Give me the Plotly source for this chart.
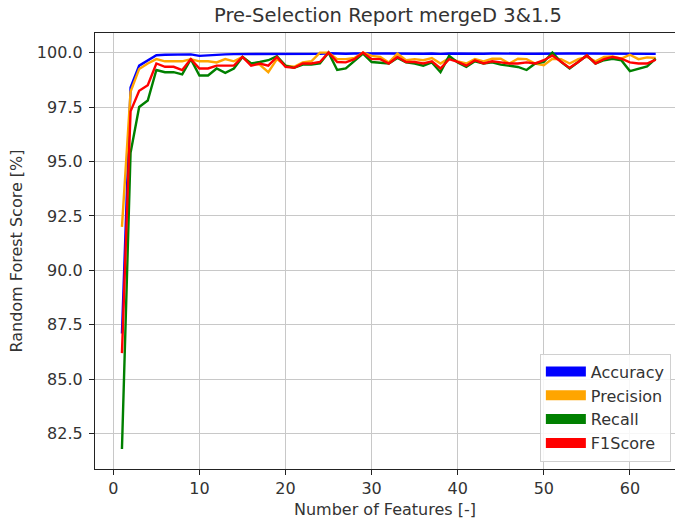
import plotly.graph_objects as go

features = list(range(1, 64))

accuracy = [87.1, 98.4, 99.4, 99.65, 99.88, 99.9, 99.9, 99.9, 99.92, 99.85,
            99.88, 99.9, 99.92, 99.93, 99.93, 99.94, 99.94, 99.93, 99.94, 99.95,
            99.94, 99.95, 99.95, 99.95, 99.97, 99.95, 99.95, 99.96, 99.97, 99.95,
            99.96, 99.96, 99.95, 99.96, 99.96, 99.95, 99.96, 99.94, 99.96, 99.95,
            99.95, 99.96, 99.95, 99.96, 99.95, 99.95, 99.96, 99.95, 99.95, 99.96,
            99.97, 99.95, 99.96, 99.96, 99.96, 99.95, 99.96, 99.96, 99.95, 99.95,
            99.95, 99.94, 99.94]

precision = [92.0, 98.2, 99.25, 99.5, 99.7, 99.6, 99.6, 99.6, 99.7, 99.6,
             99.6, 99.55, 99.7, 99.6, 99.8, 99.5, 99.45, 99.1, 99.7, 99.4,
             99.35, 99.55, 99.6, 100.0, 100.0, 99.7, 99.7, 99.75, 100.0, 99.85,
             99.8, 99.55, 99.95, 99.65, 99.7, 99.65, 99.75, 99.5, 99.75, 99.6,
             99.5, 99.7, 99.6, 99.72, 99.72, 99.5, 99.72, 99.7, 99.5, 99.42,
             99.72, 99.7, 99.5, 99.7, 99.8, 99.6, 99.8, 99.82, 99.72, 99.9,
             99.7, 99.78, 99.75]

recall = [81.8, 95.4, 97.5, 97.8, 99.2, 99.1, 99.1, 99.0, 99.7, 98.95,
          98.95, 99.27, 99.07, 99.27, 99.8, 99.5, 99.57, 99.65, 99.83, 99.4,
          99.3, 99.45, 99.45, 99.5, 100.0, 99.2, 99.27, 99.6, 99.95, 99.57,
          99.55, 99.5, 99.75, 99.55, 99.5, 99.4, 99.55, 99.1, 99.85, 99.55,
          99.35, 99.6, 99.5, 99.55, 99.45, 99.4, 99.34, 99.2, 99.5, 99.57,
          100.0, 99.57, 99.27, 99.57, 99.87, 99.5, 99.65, 99.72, 99.65, 99.15,
          99.27, 99.37, 99.72]

f1score = [86.2, 97.3, 98.25, 98.5, 99.5, 99.35, 99.35, 99.2, 99.7, 99.27,
           99.27, 99.4, 99.4, 99.4, 99.8, 99.4, 99.5, 99.4, 99.8, 99.35,
           99.3, 99.5, 99.5, 99.57, 100.0, 99.57, 99.55, 99.7, 100.0, 99.7,
           99.7, 99.5, 99.8, 99.57, 99.57, 99.5, 99.6, 99.27, 99.7, 99.57,
           99.4, 99.65, 99.5, 99.6, 99.55, 99.5, 99.5, 99.55, 99.5, 99.65,
           99.87, 99.57, 99.3, 99.57, 99.87, 99.5, 99.7, 99.8, 99.72, 99.55,
           99.5, 99.5, 99.68]

series_names = ["Accuracy", "Precision", "Recall", "F1Score"]
series_values = [accuracy, precision, recall, f1score]
series_colors = ["#0000ff", "#ffa500", "#008000", "#ff0000"]

x_ticks = [0, 10, 20, 30, 40, 50, 60]
y_ticks = [82.5, 85.0, 87.5, 90.0, 92.5, 95.0, 97.5, 100.0]

fig = go.Figure()
for name, vals, col in zip(series_names, series_values, series_colors):
    fig.add_trace(go.Scatter(x=features, y=vals, mode="lines", name=name,
                             line=dict(color=col, width=2.4), showlegend=False))
# legend patches
for name, col in zip(series_names, series_colors):
    fig.add_trace(go.Scatter(x=[None], y=[None], mode="lines", name=name,
                             line=dict(color=col, width=12), showlegend=True))

font_family = "DejaVu Sans"
txt_col = "#333333"
W, H = 675, 525
fig.update_layout(
    width=W, height=H,
    margin=dict(l=95, r=0, t=33, b=56),
    paper_bgcolor="white", plot_bgcolor="white",
    font=dict(family=font_family, size=16, color=txt_col),
    title=dict(text="Pre-Selection Report mergeD 3&1.5", x=388 / W, xanchor="center",
               y=1 - 15 / H, yanchor="middle",
               font=dict(family=font_family, size=19.5, color=txt_col)),
    legend=dict(x=0.767, xanchor="left", y=0.017, yanchor="bottom",
                bgcolor="rgba(255,255,255,0.85)", bordercolor="#d0d0d0", borderwidth=1,
                itemwidth=40, entrywidth=84, entrywidthmode="pixels",
                font=dict(family=font_family, size=16, color=txt_col)),
    showlegend=True,
)
fig.update_xaxes(
    range=[-2.13, 65.24], tickvals=x_ticks, ticktext=[str(t) for t in x_ticks],
    showgrid=True, gridcolor="#c8c8c8", gridwidth=1.2,
    showline=True, linecolor="#222222", linewidth=1.3, mirror=True,
    ticks="outside", ticklen=5, tickwidth=1.3, tickcolor="#222222", zeroline=False,
    tickfont=dict(size=16, color=txt_col),
    title=dict(text="Number of Features [-]", standoff=6,
               font=dict(family=font_family, size=16, color=txt_col)),
)
fig.update_yaxes(
    range=[80.88, 100.9], tickvals=y_ticks, ticktext=[f"{t:.1f}" for t in y_ticks],
    showgrid=True, gridcolor="#c8c8c8", gridwidth=1.2,
    showline=True, linecolor="#222222", linewidth=1.3, mirror=False,
    ticks="outside", ticklen=5, tickwidth=1.3, tickcolor="#222222", zeroline=False,
    ticklabelstandoff=3,
    tickfont=dict(size=16, color=txt_col),
    title=dict(text="Random Forest Score [%]", standoff=10,
               font=dict(family=font_family, size=16, color=txt_col)),
)

fig.write_html("out.html", config={"displayModeBar": False},
               post_script="document.body.style.margin='0';")
